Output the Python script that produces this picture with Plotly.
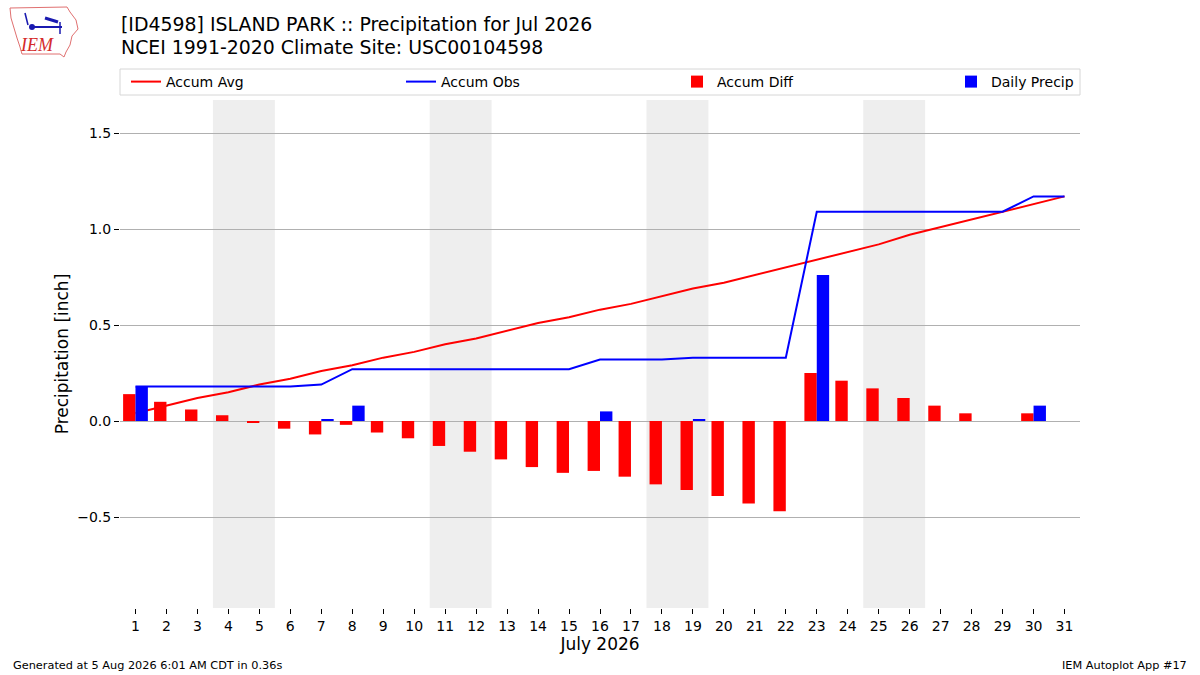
import plotly.graph_objects as go

# July 2026 daily values, Island Park (ID4598)
days = list(range(1, 32))
accum_avg = [0.04, 0.08, 0.12, 0.15, 0.19, 0.22, 0.26, 0.29, 0.33, 0.36,
             0.40, 0.43, 0.47, 0.51, 0.54, 0.58, 0.61, 0.65, 0.69, 0.72,
             0.76, 0.80, 0.84, 0.88, 0.92, 0.97, 1.01, 1.05, 1.09, 1.13, 1.17]
accum_obs = [0.18, 0.18, 0.18, 0.18, 0.18, 0.18, 0.19, 0.27, 0.27, 0.27,
             0.27, 0.27, 0.27, 0.27, 0.27, 0.32, 0.32, 0.32, 0.33, 0.33,
             0.33, 0.33, 1.09, 1.09, 1.09, 1.09, 1.09, 1.09, 1.09, 1.17, 1.17]
accum_diff = [0.14, 0.10, 0.06, 0.03, -0.01, -0.04, -0.07, -0.02, -0.06, -0.09,
              -0.13, -0.16, -0.20, -0.24, -0.27, -0.26, -0.29, -0.33, -0.36, -0.39,
              -0.43, -0.47, 0.25, 0.21, 0.17, 0.12, 0.08, 0.04, 0.00, 0.04, 0.00]
daily_precip = [0.18, 0, 0, 0, 0, 0, 0.01, 0.08, 0, 0,
                0, 0, 0, 0, 0, 0.05, 0, 0, 0.01, 0,
                0, 0, 0.76, 0, 0, 0, 0, 0, 0, 0.08, 0]
weekends = [(3.5, 5.5), (10.5, 12.5), (17.5, 19.5), (24.5, 26.5)]
yticks = [-0.5, 0.0, 0.5, 1.0, 1.5]

FONT = "DejaVu Sans"
W, H = 1200, 675
L, R, T, B = 120, 120, 100, 67
plot_h = H - T - B
plot_w = W - L - R


def px(x):
    # figure pixel -> paper x
    return (x - L) / plot_w


def py(y):
    # figure pixel (from top) -> paper y
    return (H - B - y) / plot_h


fig = go.Figure()
fig.add_trace(go.Scatter(x=days, y=accum_avg, mode="lines", name="Accum Avg",
                         line=dict(color="red", width=2), legend="legend"))
fig.add_trace(go.Scatter(x=days, y=accum_obs, mode="lines", name="Accum Obs",
                         line=dict(color="blue", width=2), legend="legend2"))
fig.add_trace(go.Bar(x=days, y=accum_diff, name="Accum Diff", marker_color="red",
                     marker_line_width=0, width=0.4, offset=-0.4, zorder=2,
                     legend="legend3"))
fig.add_trace(go.Bar(x=days, y=daily_precip, name="Daily Precip", marker_color="blue",
                     marker_line_width=0, width=0.4, offset=0.0, zorder=2,
                     legend="legend4"))

shapes = []
for x0, x1 in weekends:
    shapes.append(dict(type="rect", xref="x", yref="paper", x0=x0, x1=x1, y0=0, y1=1,
                       fillcolor="#eeeeee", line_width=0, layer="below"))
# legend frame
shapes.append(dict(type="rect", xref="paper", yref="paper", x0=0, x1=1,
                   y0=py(95), y1=py(69),
                   line=dict(color="#d6d6d6", width=1), fillcolor="white", layer="below"))

# rough IEM logo: state outline and station glyph
outline = [(10, 8), (67, 7), (70, 12), (76, 20), (78, 29), (72, 36), (70, 45),
           (66, 52), (64, 57), (60, 54), (22, 54), (20, 47), (17, 38), (14, 28), (11, 18)]
path = "M " + " L ".join(f"{px(x)},{py(y)}" for x, y in outline) + " Z"
shapes.append(dict(type="path", xref="paper", yref="paper", path=path,
                   line=dict(color="#e07070", width=1)))
shapes.append(dict(type="line", xref="paper", yref="paper", x0=px(32), x1=px(62),
                   y0=py(27), y1=py(27), line=dict(color="#1a1ab0", width=2)))
shapes.append(dict(type="line", xref="paper", yref="paper", x0=px(45), x1=px(58),
                   y0=py(18), y1=py(22), line=dict(color="#1a1ab0", width=3)))
shapes.append(dict(type="line", xref="paper", yref="paper", x0=px(60), x1=px(60),
                   y0=py(22), y1=py(34), line=dict(color="#1a1ab0", width=1.5)))
shapes.append(dict(type="line", xref="paper", yref="paper", x0=px(25), x1=px(28),
                   y0=py(13), y1=py(25), line=dict(color="#1a1ab0", width=1.5)))
shapes.append(dict(type="circle", xref="paper", yref="paper", x0=px(29), x1=px(35),
                   y0=py(24), y1=py(30), fillcolor="#1a1ab0", line_width=0))


def leg(x):
    return dict(x=px(x), xanchor="left", y=py(82), yanchor="middle",
                orientation="h", bgcolor="rgba(0,0,0,0)", borderwidth=0,
                font=dict(family=FONT, size=14, color="black"), itemwidth=30)


def note(text, x, y, xa="left", size=11.3, **kw):
    return dict(text=text, xref="paper", yref="paper", x=px(x), y=py(y),
                xanchor=xa, yanchor="middle", showarrow=False,
                font=dict(family=kw.get("family", FONT), size=size,
                          color=kw.get("color", "black")))


fig.update_layout(
    width=W, height=H,
    margin=dict(l=L, r=R, t=T, b=B),
    paper_bgcolor="white", plot_bgcolor="white",
    font=dict(family=FONT, size=14, color="black"),
    barmode="overlay",
    showlegend=True,
    xaxis=dict(range=[0.5, 31.5], tickmode="array", tickvals=days,
               ticks="outside", ticklen=5, tickcolor="black", showgrid=False,
               showline=True, linecolor="black", linewidth=1, mirror=True,
               zeroline=False, tickfont=dict(size=14),
               title=dict(text="July 2026", font=dict(size=17), standoff=5)),
    yaxis=dict(range=[-0.974, 1.672], tickmode="array", tickvals=yticks, tickformat=".1f",
               ticks="outside", ticklen=5, tickcolor="black",
               showgrid=True, gridcolor="#b0b0b0", gridwidth=1,
               showline=True, linecolor="black", linewidth=1, mirror=True,
               zeroline=False, tickfont=dict(size=14),
               title=dict(text="Precipitation [inch]", font=dict(size=17), standoff=4)),
    shapes=shapes,
    legend=leg(126), legend2=leg(401), legend3=leg(677), legend4=leg(951),
    annotations=[
        note("[ID4598] ISLAND PARK :: Precipitation for Jul 2026", 119, 24, size=18.9),
        note("NCEI 1991-2020 Climate Site: USC00104598", 119, 47, size=18.9),
        note("Generated at 5 Aug 2026 6:01 AM CDT in 0.36s", 11, 665),
        note("IEM Autoplot App #17", 1189, 665, xa="right"),
        note("<i>IEM</i>", 37, 45, xa="center", size=18,
             family="Liberation Serif", color="#d42a2a"),
    ],
)

fig.write_html("out.html", config={"displayModeBar": False},
               post_script="document.body.style.margin='0';")
